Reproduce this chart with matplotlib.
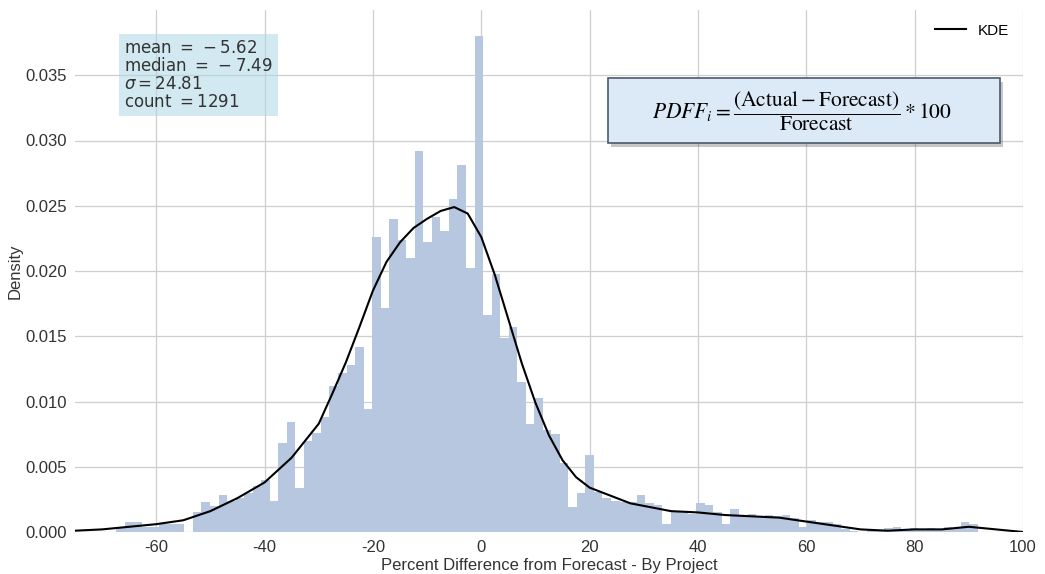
import matplotlib
matplotlib.use('Agg')
import matplotlib.pyplot as plt
import matplotlib.patheffects as pe
from matplotlib.patches import Rectangle
import numpy as np

# histogram (density per bin), bins of equal width starting at bin_start
bin_start = -67.4
bin_width = 1.575
hist_density = [
    0.0003, 0.0008, 0.0008, 0.0004, 0.0004, 0.0006, 0.0006, 0.0006, 0.0000, 0.0015,
    0.0023, 0.0020, 0.0028, 0.0024, 0.0026, 0.0030, 0.0035, 0.0040, 0.0024, 0.0068,
    0.0084, 0.0034, 0.0070, 0.0076, 0.0088, 0.0112, 0.0122, 0.0128, 0.0142, 0.0094,
    0.0226, 0.0172, 0.0240, 0.0224, 0.0210, 0.0292, 0.0222, 0.0241, 0.0231, 0.0255,
    0.0281, 0.0202, 0.0380, 0.0166, 0.0198, 0.0149, 0.0157, 0.0115, 0.0083, 0.0103,
    0.0078, 0.0075, 0.0053, 0.0019, 0.0030, 0.0059, 0.0031, 0.0026, 0.0024, 0.0023,
    0.0023, 0.0028, 0.0022, 0.0021, 0.0006, 0.0015, 0.0015, 0.0014, 0.0022, 0.0021,
    0.0015, 0.0006, 0.0018, 0.0013, 0.0014, 0.0012, 0.0013, 0.0012, 0.0013, 0.0011,
    0.0004, 0.0009, 0.0008, 0.0008, 0.0006, 0.0002, 0.0001, 0.0000, 0.0002, 0.0001,
    0.0003, 0.0004, 0.0002, 0.0003, 0.0002, 0.0003, 0.0002, 0.0004, 0.0003, 0.0008,
    0.0006,
]

# KDE curve
kde_x = [-75, -70, -65, -60, -55, -50, -45, -40, -35, -30, -27.5, -25, -22.5, -20,
         -17.5, -15, -12.5, -10, -7.5, -5, -2.5, 0, 2.5, 5, 7.5, 10, 12.5, 15, 17.5,
         20, 22.5, 25, 27.5, 30, 35, 40, 45, 50, 55, 60, 65, 70, 75, 80, 85, 90, 95, 100]
kde_y = [0.0001, 0.0002, 0.0004, 0.0006, 0.0009, 0.0016, 0.0026, 0.0038, 0.0057, 0.0083,
         0.0106, 0.0130, 0.0157, 0.0185, 0.0207, 0.0222, 0.0233, 0.0240, 0.0246, 0.0249,
         0.0244, 0.0226, 0.0197, 0.0163, 0.0129, 0.0099, 0.0074, 0.0055, 0.0042, 0.0034,
         0.0030, 0.0026, 0.0022, 0.0020, 0.0016, 0.0015, 0.0013, 0.0012, 0.0011, 0.0008,
         0.0005, 0.0002, 0.0001, 0.0002, 0.0002, 0.0004, 0.0002, 0.0000]

stats_lines = ['mean $=\\,-5.62$', 'median $=\\,-7.49$', '$\\sigma = 24.81$', 'count $= 1291$']
formula = r'$PDFF_i = \dfrac{(\mathrm{Actual} - \mathrm{Forecast})}{\mathrm{Forecast}} * 100$'

x_ticks = [-60, -40, -20, 0, 20, 40, 60, 80, 100]
y_ticks = [0.000, 0.005, 0.010, 0.015, 0.020, 0.025, 0.030, 0.035]

plt.rcParams['font.family'] = ['Liberation Sans', 'DejaVu Sans']
plt.rcParams['axes.unicode_minus'] = False

fig = plt.figure(figsize=(10.45, 5.74), dpi=100)
ax = fig.add_axes([75 / 1045, 42 / 574, 948 / 1045, 522 / 574])

edges = bin_start + bin_width * np.arange(len(hist_density) + 1)
centers = (edges[:-1] + edges[1:]) / 2
ax.hist(centers, bins=edges, weights=hist_density, color='#b7c7df', zorder=2)
ax.plot(kde_x, kde_y, color='black', lw=1.5, label='KDE', zorder=3)

ax.set_xlim(-75, 100)
ax.set_ylim(0, 0.0400)
ax.set_xticks(x_ticks)
ax.set_yticks(y_ticks)
ax.yaxis.set_major_formatter(plt.FuncFormatter(lambda v, p: f'{v:.3f}'))
ax.grid(True, color='#cfcfcf', lw=0.9, zorder=0)
ax.set_axisbelow(True)
for s in ax.spines.values():
    s.set_visible(False)
ax.tick_params(length=0, labelsize=12, labelcolor='#333333', pad=6)

ax.set_xlabel('Percent Difference from Forecast - By Project', fontsize=12, color='#333333', labelpad=2)
ax.set_ylabel('Density', fontsize=12, color='#333333', labelpad=2)

ax.legend(loc='upper right', frameon=False, fontsize=11)

ax.text(0.052, 0.945, '\n'.join(stats_lines), transform=ax.transAxes, va='top', ha='left',
        fontsize=12, family='DejaVu Sans', color='#333333', linespacing=1.0,
        bbox=dict(boxstyle='square,pad=0.3', facecolor='#add8e6', alpha=0.55, edgecolor='none'),
        zorder=5)

box = Rectangle((0.562, 0.745), 0.414, 0.125, transform=ax.transAxes,
                facecolor='#dceaf8', edgecolor='#4a5a6a', lw=1.2, zorder=5,
                path_effects=[pe.withSimplePatchShadow(offset=(2, -3), alpha=0.3)])
ax.add_patch(box)
ax.text(0.767, 0.806, formula, transform=ax.transAxes, ha='center', va='center',
        fontsize=15.5, math_fontfamily='stix', color='black', zorder=6)

fig.savefig('out.png', dpi=100)
